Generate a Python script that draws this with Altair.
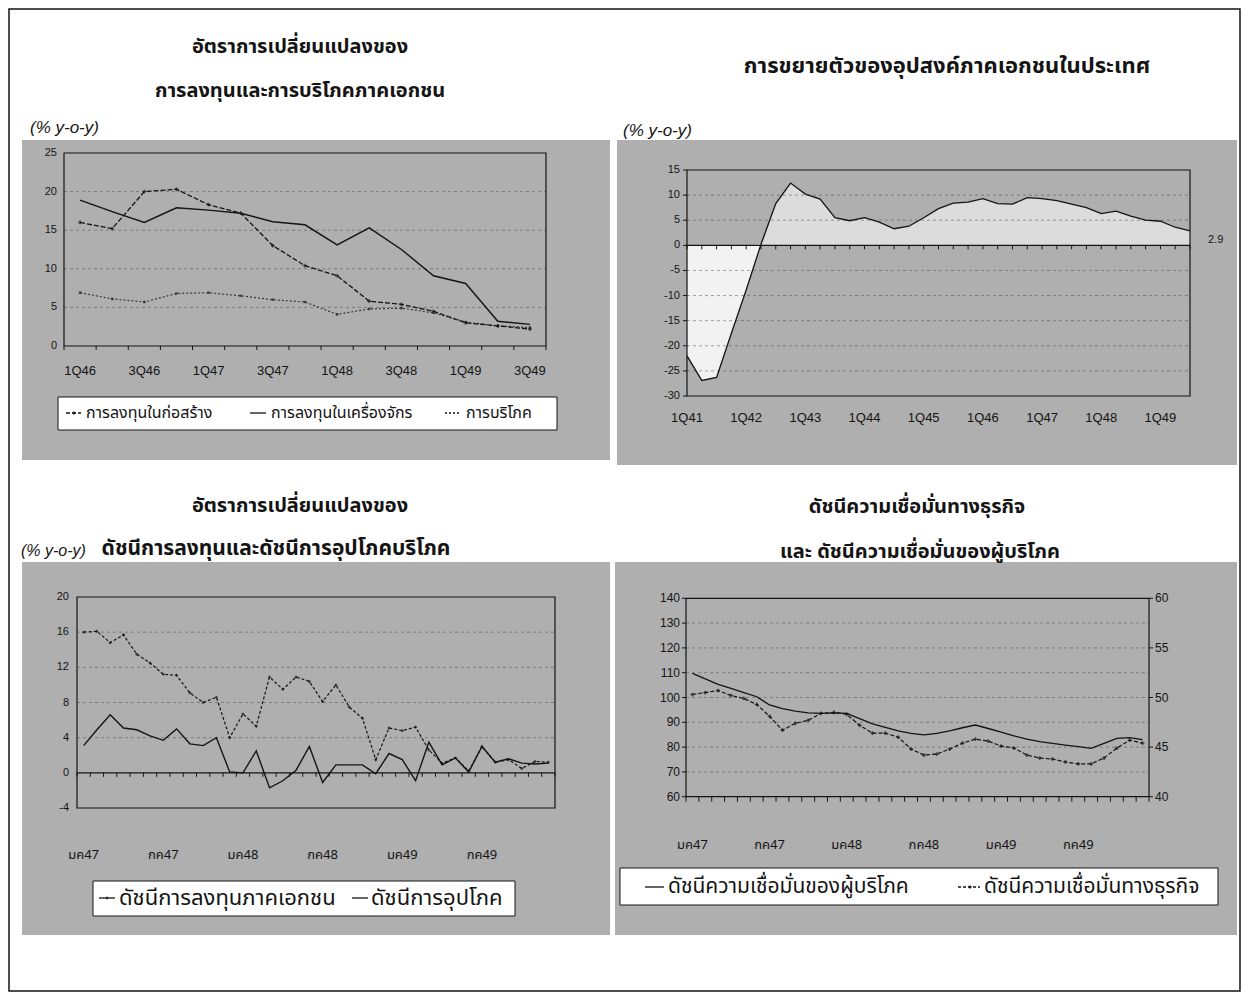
import altair as alt
import pandas as pd

# ------------------------------------------------------------------ data
# Panel 1 : quarterly growth of private investment & consumption (% y-o-y)
p1_quarters = ["1Q46", "2Q46", "3Q46", "4Q46", "1Q47", "2Q47", "3Q47", "4Q47",
               "1Q48", "2Q48", "3Q48", "4Q48", "1Q49", "2Q49", "3Q49"]
p1_construction = [16.0, 15.2, 20.0, 20.3, 18.3, 17.2, 13.0, 10.4, 9.1, 5.8, 5.4, 4.5, 3.0, 2.6, 2.2]
p1_machinery = [18.9, 17.4, 16.0, 17.9, 17.6, 17.2, 16.1, 15.7, 13.1, 15.3, 12.5, 9.1, 8.1, 3.2, 2.8]
p1_consumption = [6.9, 6.1, 5.7, 6.8, 6.9, 6.5, 6.0, 5.7, 4.1, 4.8, 4.9, 4.3, 3.1, 2.6, 2.4]
p1_labels = ["1Q46", "3Q46", "1Q47", "3Q47", "1Q48", "3Q48", "1Q49", "3Q49"]
p1_yticks = [0, 5, 10, 15, 20, 25]
p1_names = ["การลงทุนในก่อสร้าง", "การลงทุนในเครื่องจักร", "การบริโภค"]

# Panel 2 : domestic private demand growth (% y-o-y), 1Q41 - 3Q49
p2_quarters = [f"{q}Q{y}" for y in range(41, 50) for q in range(1, 5)][:35]
p2_values = [-22.0, -26.9, -26.3, -17.5, -8.9, 0.2, 8.3, 12.4, 10.2, 9.2,
             5.5, 4.9, 5.5, 4.6, 3.3, 3.8, 5.5, 7.3, 8.4, 8.6,
             9.3, 8.3, 8.2, 9.5, 9.3, 8.9, 8.2, 7.5, 6.3, 6.8,
             5.8, 5.0, 4.8, 3.6, 2.9]
p2_labels = ["1Q41", "1Q42", "1Q43", "1Q44", "1Q45", "1Q46", "1Q47", "1Q48", "1Q49"]
p2_yticks = [15, 10, 5, 0, -5, -10, -15, -20, -25, -30]
p2_last_label = "2.9"

# Panel 3 : private investment index & consumption index (% y-o-y), monthly
thai_months = ["มค", "กพ", "มีค", "เมย", "พค", "มิย", "กค", "สค", "กย", "ตค", "พย", "ธค"]
p3_months = [f"{m}{y}" for y in (47, 48, 49) for m in thai_months]
p3_investment = [16.0, 16.1, 14.8, 15.7, 13.5, 12.5, 11.2, 11.1, 9.1, 8.0,
                 8.6, 4.0, 6.7, 5.3, 10.9, 9.5, 10.9, 10.4, 8.1, 10.0,
                 7.5, 6.2, 1.5, 5.1, 4.8, 5.2, 2.6, 1.1, 1.7, 0.2,
                 3.0, 1.2, 1.5, 0.5, 1.3, 1.2]
p3_consumption = [3.1, 4.9, 6.6, 5.1, 4.9, 4.2, 3.7, 5.0, 3.3, 3.1,
                  4.0, 0.1, 0.0, 2.5, -1.7, -0.9, 0.3, 3.0, -1.1, 0.9,
                  0.9, 0.9, -0.1, 2.2, 1.5, -0.9, 3.5, 0.9, 1.7, 0.1,
                  3.0, 1.2, 1.6, 1.1, 1.0, 1.1]
p3_labels = ["มค47", "กค47", "มค48", "กค48", "มค49", "กค49"]
p3_yticks = [20, 16, 12, 8, 4, 0, -4]
p3_names = ["ดัชนีการลงทุนภาคเอกชน", "ดัชนีการอุปโภค"]

# Panel 4 : consumer confidence (left axis) & business confidence (right axis)
p4_months = p3_months
p4_consumer = [109.7, 107.5, 105.3, 103.7, 102.0, 100.3, 97.0, 95.5, 94.5, 93.8,
               93.6, 93.8, 93.6, 91.5, 89.4, 88.0, 86.5, 85.5, 84.9, 85.5,
               86.5, 87.8, 88.9, 87.5, 86.0, 84.5, 83.2, 82.2, 81.5, 80.8,
               80.2, 79.5, 81.5, 83.5, 83.8, 83.0]
p4_business = [50.3, 50.5, 50.7, 50.2, 49.9, 49.3, 48.1, 46.7, 47.4, 47.7,
               48.4, 48.5, 48.3, 47.2, 46.4, 46.4, 46.0, 44.8, 44.2, 44.3,
               44.8, 45.4, 45.8, 45.6, 45.1, 44.9, 44.2, 43.9, 43.8, 43.5,
               43.3, 43.3, 43.9, 44.9, 45.7, 45.4]
p4_labels = ["มค47", "กค47", "มค48", "กค48", "มค49", "กค49"]
p4_left_ticks = [140, 130, 120, 110, 100, 90, 80, 70, 60]
p4_right_ticks = [60, 55, 50, 45, 40]
p4_names = ["ดัชนีความเชื่อมั่นของผู้บริโภค", "ดัชนีความเชื่อมั่นทางธุรกิจ"]

titles = {
    "p1a": "อัตราการเปลี่ยนแปลงของ",
    "p1b": "การลงทุนและการบริโภคภาคเอกชน",
    "p2": "การขยายตัวของอุปสงค์ภาคเอกชนในประเทศ",
    "p3a": "อัตราการเปลี่ยนแปลงของ",
    "p3b": "ดัชนีการลงทุนและดัชนีการอุปโภคบริโภค",
    "p4a": "ดัชนีความเชื่อมั่นทางธุรกิจ",
    "p4b": "และ ดัชนีความเชื่อมั่นของผู้บริโภค",
    "unit": "(% y-o-y)",
}

# ------------------------------------------------------------------ style / layout
W, H = 1233, 984
M = 8  # page margin: layout numbers below are page pixels
THAI = "'Noto Sans Thai', Tahoma, Loma, Garuda, 'DejaVu Sans', sans-serif"
LAT = "'Liberation Sans', Arial, sans-serif"
INK = "#141414"
BG = "#afafaf"


def one():
    return pd.DataFrame({"_": [0]})


def sx(dom, a, b):
    return alt.Scale(domain=dom, range=[a - M, b - M], nice=False, zero=False)


def sy(dom, bottom, top):
    return alt.Scale(domain=dom, range=[bottom - M, top - M], nice=False, zero=False)


def rect(x0, y0, x1, y1, **kw):
    return alt.Chart(one()).mark_rect(**kw).encode(
        x=alt.value(x0 - M), x2=alt.value(x1 - M), y=alt.value(y0 - M), y2=alt.value(y1 - M))


def text(txt, x, y, size, align="center", weight="normal", style="normal", font=THAI):
    return alt.Chart(one()).mark_text(
        text=txt, fontSize=size, align=align, baseline="middle", fontWeight=weight,
        fontStyle=style, font=font, color=INK).encode(x=alt.value(x - M), y=alt.value(y - M))


def hseg(x0, x1, y, width=1.3, dash=None, color=INK):
    kw = dict(color=color, strokeWidth=width)
    if dash:
        kw["strokeDash"] = dash
    return alt.Chart(one()).mark_rule(**kw).encode(
        x=alt.value(x0 - M), x2=alt.value(x1 - M), y=alt.value(y - M))


def dot(x, y, shape="square", size=10):
    return alt.Chart(one()).mark_point(shape=shape, size=size, filled=True, color=INK).encode(
        x=alt.value(x - M), y=alt.value(y - M))


def grid(vals, Y, x0, x1):
    return alt.Chart(pd.DataFrame({"v": vals})).mark_rule(
        color="#444", strokeDash=[3, 3], strokeWidth=0.8, opacity=0.6).encode(
        y=alt.Y("v:Q", scale=Y, axis=None), x=alt.value(x0 - M), x2=alt.value(x1 - M))


def ylabels(vals, Y, x, align="right", size=11):
    df = pd.DataFrame({"v": vals, "t": [str(v) for v in vals]})
    return alt.Chart(df).mark_text(align=align, baseline="middle", fontSize=size, font=LAT, color=INK).encode(
        y=alt.Y("v:Q", scale=Y, axis=None), x=alt.value(x - M), text="t:N")


def yticks(vals, Y, x0, x1):
    return alt.Chart(pd.DataFrame({"v": vals})).mark_rule(color=INK, strokeWidth=1).encode(
        y=alt.Y("v:Q", scale=Y, axis=None), x=alt.value(x0 - M), x2=alt.value(x1 - M))


def xlabels(labels, cats, X, y, size=12, font=LAT):
    df = pd.DataFrame({"t": labels, "i": [cats.index(l) for l in labels]})
    return alt.Chart(df).mark_text(baseline="middle", fontSize=size, font=font, color=INK).encode(
        x=alt.X("i:Q", scale=X, axis=None), y=alt.value(y - M), text="t:N")


def xticks(positions, X, y0, y1):
    return alt.Chart(pd.DataFrame({"b": positions})).mark_rule(color=INK, strokeWidth=1).encode(
        x=alt.X("b:Q", scale=X, axis=None), y=alt.value(y0 - M), y2=alt.value(y1 - M))


def line(df, col, X, Y, **kw):
    return alt.Chart(df).mark_line(**kw).encode(
        x=alt.X("i:Q", scale=X, axis=None), y=alt.Y(f"{col}:Q", scale=Y, axis=None))


def pts(df, col, X, Y, shape="square", size=9):
    return alt.Chart(df).mark_point(shape=shape, size=size, filled=True, color=INK).encode(
        x=alt.X("i:Q", scale=X, axis=None), y=alt.Y(f"{col}:Q", scale=Y, axis=None))


L = []

# page border and grey halftone backgrounds
L.append(rect(22, 140, 610, 460, color=BG))
L.append(rect(617, 140, 1237, 465, color=BG))
L.append(rect(22, 562, 610, 935, color=BG))
L.append(rect(615, 562, 1237, 935, color=BG))
L.append(rect(9, 9, 1240, 991, fillOpacity=0, stroke=INK, strokeWidth=1.5))

# titles
L.append(text(titles["p1a"], 300, 47, 20, weight="bold"))
L.append(text(titles["p1b"], 300, 91, 20, weight="bold"))
L.append(text(titles["unit"], 30, 128, 17, align="left", style="italic", font=LAT))
L.append(text(titles["p2"], 947, 66, 22, weight="bold"))
L.append(text(titles["unit"], 623, 131, 17, align="left", style="italic", font=LAT))
L.append(text(titles["p3a"], 300, 506, 20, weight="bold"))
L.append(text(titles["p3b"], 276, 549, 21, weight="bold"))
L.append(text(titles["unit"], 21, 551, 16, align="left", style="italic", font=LAT))
L.append(text(titles["p4a"], 917, 507, 20, weight="bold"))
L.append(text(titles["p4b"], 920, 552, 20, weight="bold"))

# ------------------------------------------------------------------ panel 1
x0, x1, yb, yt = 64, 546, 346, 153
n1 = len(p1_quarters)
X1 = sx([-0.5, n1 - 0.5], x0, x1)
Y1 = sy([0, 25], yb, yt)
df1 = pd.DataFrame({"i": range(n1), "con": p1_construction, "mac": p1_machinery, "cons": p1_consumption})
L.append(grid([5, 10, 15, 20], Y1, x0, x1))
L.append(rect(x0, yt, x1, yb, fillOpacity=0, stroke=INK, strokeWidth=1.2))
L.append(xticks([i - 0.5 for i in range(n1 + 1)], X1, yb, yb + 4))
L.append(ylabels(p1_yticks, Y1, 57))
L.append(xlabels(p1_labels, p1_quarters, X1, 371, size=13))
L.append(line(df1, "cons", X1, Y1, color="#3a3a3a", strokeWidth=1.2, strokeDash=[2, 2]))
L.append(pts(df1, "cons", X1, Y1, shape="square", size=6))
L.append(line(df1, "mac", X1, Y1, color=INK, strokeWidth=1.4))
L.append(line(df1, "con", X1, Y1, color=INK, strokeWidth=1.3, strokeDash=[5, 2]))
L.append(pts(df1, "con", X1, Y1, shape="cross", size=14))
# legend
L.append(rect(58, 397, 557, 430, color="white", stroke=INK, strokeWidth=1))
L.append(hseg(66, 81, 413, dash=[4, 2]))
L.append(dot(74, 413, "cross", 14))
L.append(text(p1_names[0], 86, 413, 16, align="left"))
L.append(hseg(250, 266, 413))
L.append(text(p1_names[1], 271, 413, 16, align="left"))
L.append(hseg(445, 461, 413, dash=[2, 2]))
L.append(text(p1_names[2], 466, 413, 16, align="left"))

# ------------------------------------------------------------------ panel 2
x0, x1, yb, yt = 687, 1190, 396, 170
n2 = len(p2_quarters)
X2 = sx([0, n2 - 1], x0, x1)
Y2 = sy([-30, 15], yb, yt)
df2 = pd.DataFrame({"i": range(n2), "v": p2_values})
area_base = alt.Chart(df2).transform_calculate(
    pos="max(datum.v, 0)", neg="min(datum.v, 0)")
L.append(area_base.mark_area(color="#dcdcdc").encode(
    x=alt.X("i:Q", scale=X2, axis=None), y=alt.Y("pos:Q", scale=Y2, axis=None), y2=alt.datum(0)))
L.append(area_base.mark_area(color="#f2f2f2").encode(
    x=alt.X("i:Q", scale=X2, axis=None), y=alt.Y("neg:Q", scale=Y2, axis=None), y2=alt.datum(0)))
L.append(grid([10, 5, -5, -10, -15, -20, -25], Y2, x0, x1))
L.append(rect(x0, yt, x1, yb, fillOpacity=0, stroke=INK, strokeWidth=1.2))
L.append(alt.Chart(pd.DataFrame({"v": [0]})).mark_rule(color=INK, strokeWidth=1.3).encode(
    y=alt.Y("v:Q", scale=Y2, axis=None), x=alt.value(x0 - M), x2=alt.value(x1 - M)))
z2 = yt + (yb - yt) * 15 / 45
L.append(xticks(list(range(n2)), X2, z2, z2 + 4))
L.append(yticks(p2_yticks, Y2, x0 - 4, x0))
L.append(ylabels(p2_yticks, Y2, 680))
L.append(xlabels(p2_labels, p2_quarters, X2, 418, size=13))
L.append(line(df2, "v", X2, Y2, color=INK, strokeWidth=1.3))
L.append(text(p2_last_label, 1208, 240, 11, align="left", font=LAT))

# ------------------------------------------------------------------ panel 3
x0, x1, yb, yt = 77, 555, 808, 597
n3 = len(p3_months)
X3 = sx([-0.5, n3 - 0.5], x0, x1)
Y3 = sy([-4, 20], yb, yt)
df3 = pd.DataFrame({"i": range(n3), "inv": p3_investment, "cons": p3_consumption})
L.append(grid([4, 8, 12, 16], Y3, x0, x1))
L.append(rect(x0, yt, x1, yb, fillOpacity=0, stroke=INK, strokeWidth=1.2))
L.append(alt.Chart(pd.DataFrame({"v": [0]})).mark_rule(color=INK, strokeWidth=1.3).encode(
    y=alt.Y("v:Q", scale=Y3, axis=None), x=alt.value(x0 - M), x2=alt.value(x1 - M)))
z3 = yt + (yb - yt) * 20 / 24
L.append(xticks([i - 0.5 for i in range(n3 + 1)], X3, z3, z3 + 4))
L.append(ylabels(p3_yticks, Y3, 69))
L.append(xlabels(p3_labels, p3_months, X3, 855, size=13, font=THAI))
L.append(line(df3, "cons", X3, Y3, color=INK, strokeWidth=1.4))
L.append(line(df3, "inv", X3, Y3, color=INK, strokeWidth=1.2, strokeDash=[3, 2]))
L.append(pts(df3, "inv", X3, Y3, shape="diamond", size=12))
# legend
L.append(rect(93, 881, 515, 916, color="white", stroke=INK, strokeWidth=1))
L.append(hseg(99, 115, 898))
L.append(dot(107, 898, "diamond", 14))
L.append(text(p3_names[0], 119, 898, 22, align="left"))
L.append(hseg(352, 368, 898))
L.append(text(p3_names[1], 371, 898, 22, align="left"))

# ------------------------------------------------------------------ panel 4
x0, x1, yb, yt = 686, 1149, 796.7, 598.3
n4 = len(p4_months)
X4 = sx([-0.5, n4 - 0.5], x0, x1)
Y4L = sy([60, 140], yb, yt)
Y4R = sy([40, 60], yb, yt)
df4 = pd.DataFrame({"i": range(n4), "c": p4_consumer, "b": p4_business})
L.append(grid([70, 80, 90, 100, 110, 120, 130], Y4L, x0, x1))
L.append(rect(x0, yt, x1, yb, fillOpacity=0, stroke=INK, strokeWidth=1.2))
L.append(xticks([i - 0.5 for i in range(n4 + 1)], X4, yb, yb + 5))
L.append(yticks(p4_left_ticks, Y4L, x0 - 4, x0))
L.append(yticks(p4_right_ticks, Y4R, x1, x1 + 4))
L.append(ylabels(p4_left_ticks, Y4L, 680, size=12))
L.append(ylabels(p4_right_ticks, Y4R, 1155, align="left", size=12))
L.append(xlabels(p4_labels, p4_months, X4, 845, size=13, font=THAI))
L.append(line(df4, "c", X4, Y4L, color=INK, strokeWidth=1.3))
L.append(line(df4, "b", X4, Y4R, color=INK, strokeWidth=1.2, strokeDash=[4, 2]))
L.append(pts(df4, "b", X4, Y4R, shape="cross", size=14))
# legend
L.append(rect(620, 868, 1218, 905, color="white", stroke=INK, strokeWidth=1))
L.append(hseg(645, 664, 887))
L.append(text(p4_names[0], 668, 887, 21, align="left"))
L.append(hseg(958, 980, 887, dash=[3, 2]))
L.append(dot(970, 887, "cross", 14))
L.append(text(p4_names[1], 984, 887, 21, align="left"))

chart = alt.layer(*L).resolve_scale(x="independent", y="independent").properties(
    width=W, height=H, padding=0, autosize=alt.AutoSizeParams(type="none")
).configure_view(stroke=None)

chart.save("out.html", embed_options={"renderer": "svg", "actions": False})
